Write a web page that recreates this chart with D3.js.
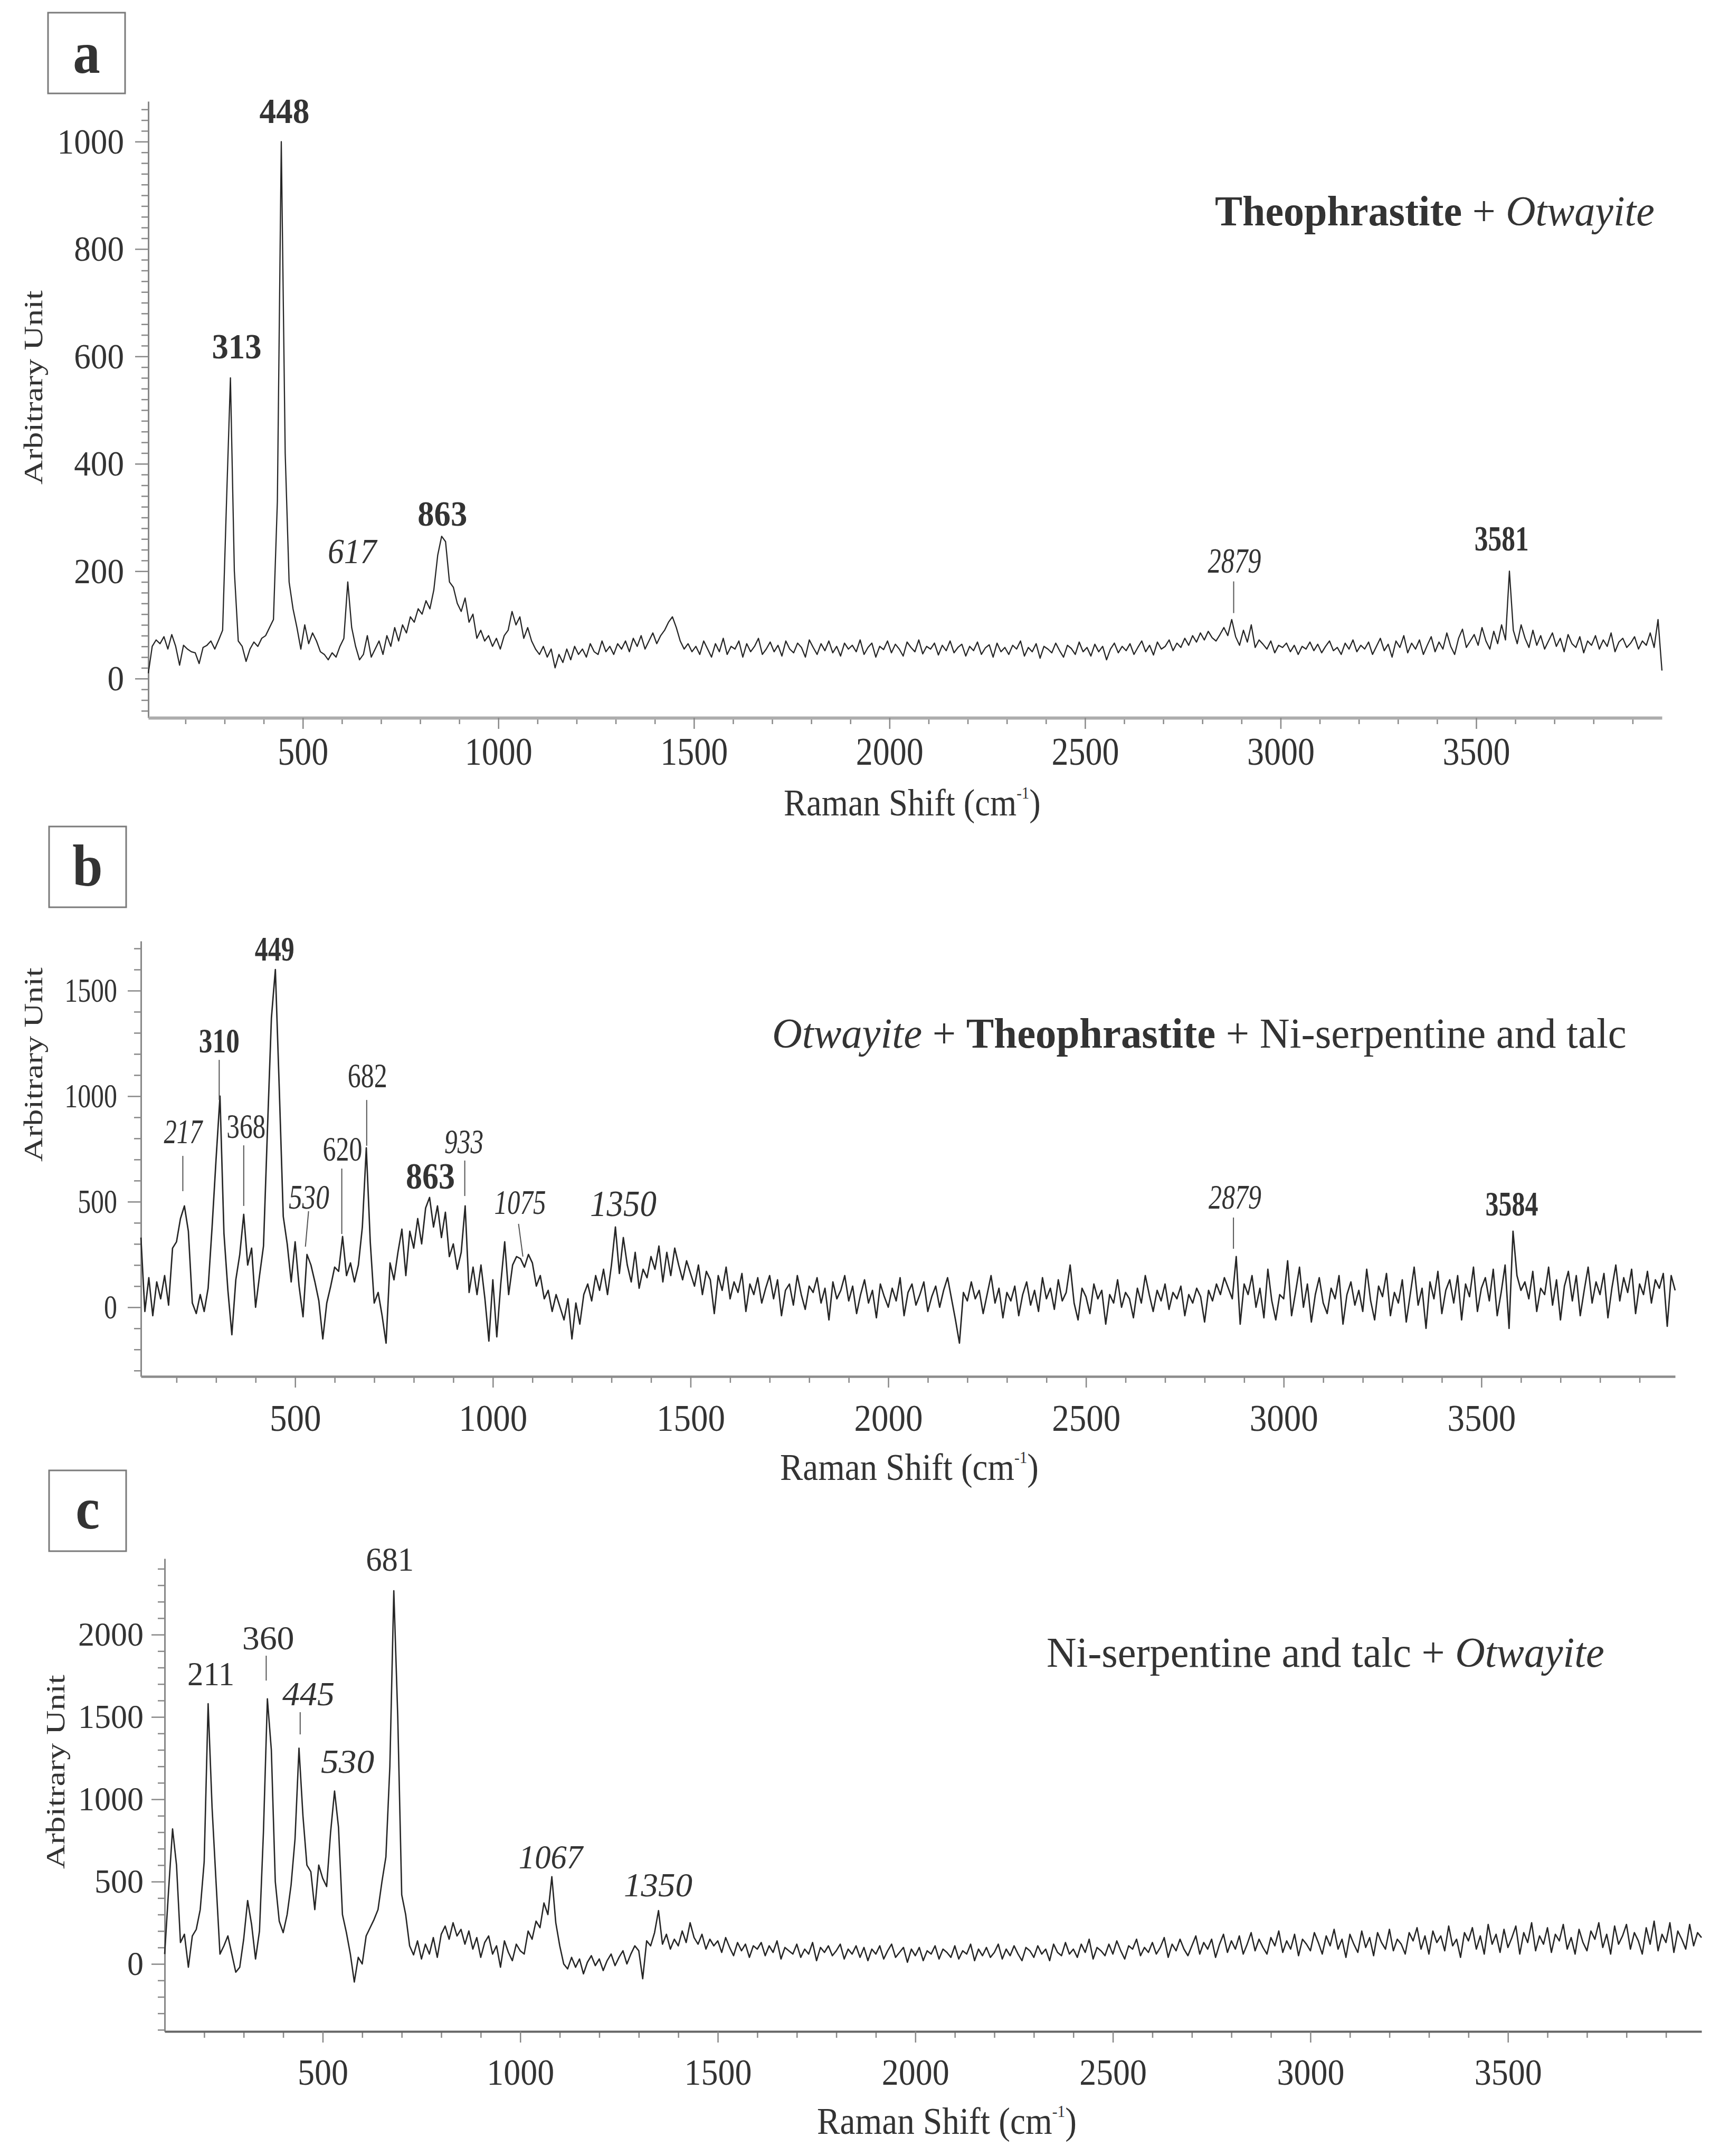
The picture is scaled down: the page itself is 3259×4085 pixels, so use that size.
<!DOCTYPE html>
<html>
<head>
<meta charset="utf-8">
<script src="https://cdn.jsdelivr.net/npm/d3@7"></script>
<style>
  html, body { margin: 0; padding: 0; background: #fff; }
  svg { display: block; }
</style>
</head>
<body>
<svg id="chart" width="3259" height="4085"></svg>
<script>
// ---------------- DATA ----------------
// Raman shift sampling (cm-1): first sample of each panel and sampling step
const shiftStartA = 105;
const shiftStartB = 110;
const shiftStartC = 100;
const shiftStep = 10;

// Panel a : Theophrastite + Otwayite (intensity, arbitrary unit)
const intensityA = [
  10, 60, 72, 65, 78, 55, 82, 60, 25, 62,
  55, 50, 48, 28, 58, 62, 70, 55, 72, 90,
  330, 560, 200, 70, 60, 32, 55, 68, 60, 75,
  80, 95, 110, 330, 1000, 420, 180, 130, 95, 55,
  100, 65, 85, 70, 50, 45, 35, 48, 40, 60,
  75, 180, 95, 60, 35, 45, 80, 40, 55, 70,
  45, 80, 60, 95, 70, 100, 85, 115, 105, 130,
  120, 145, 130, 165, 230, 265, 255, 180, 170, 140,
  125, 150, 105, 120, 75, 90, 70, 80, 60, 75,
  55, 80, 90, 125, 100, 115, 75, 95, 70, 55,
  45, 60, 40, 55, 20, 45, 30, 55, 35, 60,
  45, 55, 40, 65, 50, 45, 70, 50, 60, 45,
  65, 55, 70, 50, 75, 60, 80, 55, 70, 85,
  65, 80, 90, 105, 115, 95, 70, 55, 65, 50,
  60, 45, 70, 55, 40, 65, 50, 75, 45, 60,
  55, 70, 40, 65, 50, 60, 75, 45, 55, 68,
  50, 62, 42, 70, 55, 48, 66, 58, 40, 72,
  58, 45, 65, 52, 70, 48, 60, 42, 66, 55,
  62, 50, 72, 45, 58, 66, 40, 60, 54, 70,
  48, 64, 55, 42, 68, 58, 50, 72, 46, 60,
  55, 66, 44, 62, 52, 70, 48, 58, 64, 42,
  60, 52, 68, 45, 57, 63, 40, 66, 50, 58,
  45, 62, 55, 70, 42, 58, 50, 65, 38, 60,
  55, 48, 66, 52, 40, 62, 56, 45, 68, 50,
  58, 42, 64, 50, 60, 35, 55, 66, 48, 60,
  52, 65, 45, 58, 70, 50, 62, 44, 68, 55,
  60, 72, 52, 66, 58, 75, 62, 80, 68, 85,
  72, 88, 76, 70, 82, 95, 80, 110, 78, 62,
  90, 68, 100, 58, 72, 64, 55, 70, 48, 62,
  58, 66, 50, 62, 45, 60, 55, 68, 52, 64,
  48, 60, 70, 52, 58, 45, 66, 55, 72, 50,
  62, 55, 68, 45, 60, 75, 52, 64, 40, 70,
  58, 80, 48, 66, 55, 72, 45, 62, 78, 50,
  68, 55, 85, 60, 45, 75, 92, 58, 70, 82,
  62, 95, 70, 55, 88, 65, 100, 72, 200, 90,
  65, 100, 75, 58, 90, 62, 80, 55, 70, 85,
  60, 75, 50, 82, 65, 58, 78, 48, 70, 62,
  80, 55, 72, 60, 85, 50, 68, 75, 58, 66,
  78, 55, 70, 62, 85, 58, 110, 15
];

// Panel b : Otwayite + Theophrastite + Ni-serpentine and talc
const intensityB = [
  330, -20, 140, -40, 120, 40, 150, 10, 280, 310,
  420, 480, 360, 20, -30, 60, -20, 90, 380, 700,
  1000, 350, 80, -130, 130, 250, 440, 200, 280, 0,
  150, 290, 840, 1370, 1600, 1030, 430, 300, 120, 310,
  100, -45, 250, 200, 120, 30, -150, 20, 100, 190,
  170, 335, 150, 210, 120, 200, 380, 755, 310, 20,
  70, -40, -170, 210, 130, 260, 370, 150, 360, 280,
  420, 300, 470, 520, 380, 480, 330, 450, 240, 300,
  180, 260, 480, 70, 190, 60, 200, 40, -160, 130,
  -140, 110, 310, 60, 200, 240, 230, 190, 250, 210,
  100, 150, 40, 80, -20, 60, 0, -60, 40, -150,
  20, -80, 60, 110, 30, 150, 80, 180, 60, 200,
  380, 160, 330, 200, 120, 260, 90, 180, 140, 240,
  180, 290, 120, 260, 150, 280, 200, 130, 220, 160,
  100, 200, 60, 170, 130, -30, 150, 80, 190, 40,
  120, 70, 160, -20, 110, 60, 140, 20, 90, 150,
  40, 130, -40, 80, 110, 10, 150, 60, -10, 100,
  70, 140, 20, 90, -60, 120, 40, 80, 150, 30,
  100, -30, 60, 130, 20, 80, -50, 110, 50, 0,
  90, 30, 140, -40, 70, 110, 10, 60, 120, -20,
  50, 100, 0, 80, 140, 40, -60, -170, 70, 30,
  120, 40, 80, -30, 60, 150, 20, 90, -50, 70,
  30, 100, -40, 60, 120, 10, 80, -20, 140, 40,
  90, -10, 130, 30, 70, 200, 20, -60, 90, 50,
  -30, 110, 40, 80, -80, 60, 20, 130, 0, 70,
  40, -50, 90, 20, 150, 60, -20, 80, 30, 110,
  -10, 70, 40, 100, -40, 60, 20, 90, 50, -70,
  80, 30, 110, 60, 140, 90, 40, 240, -80, 110,
  60, 150, 0, 90, -50, 180, 30, -60, 60, 40,
  220, -40, 70, 190, 0, 110, -70, 60, 140, 20,
  -30, 90, 40, 150, -80, 60, 120, 10, 80, -20,
  180, 30, -60, 100, 50, 160, -40, 70, 20, 130,
  -70, 60, 190, 10, 90, -100, 120, 40, 170, -30,
  80, 130, 20, 150, -60, 110, 50, 190, -20, 90,
  140, 30, 180, -40, 70, 200, -100, 360, 150, 80,
  120, 40, 170, -20, 90, 60, 190, 10, 130, -60,
  100, 170, 30, 150, -40, 80, 190, 20, 120, 60,
  160, -50, 90, 200, 30, 140, 70, 180, -30, 110,
  60, 170, 20, 130, 90, 160, -90, 150, 80
];

// Panel c : Ni-serpentine and talc + Otwayite
const intensityC = [
  60, 450, 820, 600, 130, 180, -20, 170, 210, 330,
  620, 1580, 950, 500, 60, 110, 170, 60, -50, -20,
  150, 385, 240, 30, 200, 800, 1610, 1300, 500, 260,
  190, 300, 480, 760, 1310, 900, 600, 560, 330, 600,
  520, 470, 800, 1050, 830, 300, 190, 60, -110, 40,
  0, 170, 220, 270, 330, 500, 650, 1200, 2266, 1500,
  420, 300, 110, 55, 140, 30, 120, 60, 160, 40,
  180, 230, 150, 250, 170, 210, 120, 200, 90, 160,
  40, 130, 170, 60, 110, -20, 140, 70, 20, 120,
  80, 60, 200, 150, 260, 220, 370, 300, 530, 250,
  110, 0, -30, 40, -20, 30, -60, 10, 50, -10,
  30, -40, 20, 60, -10, 40, 80, 0, 60, 110,
  80, -90, 140, 110, 190, 324, 120, 180, 90, 150,
  110, 200, 130, 250, 160, 120, 180, 90, 150, 110,
  140, 70, 160, 100, 50, 130, 80, 120, 40, 110,
  90, 130, 50, 110, 70, 140, 30, 100, 80, 60,
  120, 40, 90, 60, 130, 20, 100, 70, 110, 50,
  80, 120, 30, 90, 60, 110, 40, 100, 20, 90,
  60, 110, 30, 80, 120, 40, 70, 100, 10, 90,
  50, 100, 20, 80, 60, 110, 30, 90, 70, 40,
  110, 30, 80, 60, 120, 20, 90, 50, 100, 40,
  70, 120, 30, 90, 50, 110, 60, 20, 100, 80,
  40, 110, 60, 90, 20, 120, 70, 50, 130, 60,
  90, 40, 120, 70, 150, 30, 100, 80, 50, 120,
  60, 140, 80, 30, 110, 90, 150, 50, 100, 70,
  130, 60, 100, 160, 40, 120, 80, 150, 90, 50,
  110, 170, 60, 130, 90, 150, 40, 120, 180, 70,
  140, 90, 170, 60, 120, 190, 80, 150, 100, 60,
  160, 110, 200, 70, 140, 90, 180, 50, 150, 120,
  80, 190, 130, 60, 170, 110, 210, 90, 150, 40,
  180, 120, 70, 200, 100, 160, 50, 190, 130, 90,
  210, 80, 150, 120, 60, 190, 140, 220, 90, 170,
  60, 200, 130, 170, 80, 230, 110, 150, 40, 190,
  140, 220, 90, 170, 60, 240, 120, 180, 70, 210,
  100, 160, 230, 60, 190, 130, 250, 80, 170, 120,
  220, 70, 180, 140, 240, 90, 160, 60, 210, 130,
  80, 200, 150, 250, 100, 180, 60, 230, 120, 170,
  240, 90, 190, 140, 60, 220, 120, 260, 80, 180,
  130, 250, 70, 200, 150, 90, 240, 110, 190, 160
];

// Axis tick labels
const xTicks = [500, 1000, 1500, 2000, 2500, 3000, 3500];
const yTicksA = [0, 200, 400, 600, 800, 1000];
const yTicksB = [0, 500, 1000, 1500];
const yTicksC = [0, 500, 1000, 1500, 2000];

// Peak labels (text)
const peakLabelsA = ["448", "313", "617", "863", "2879", "3581"];
const peakLabelsB = ["449", "310", "217", "368", "682", "620", "530", "863", "933", "1075", "1350", "2879", "3584"];
const peakLabelsC = ["211", "360", "445", "530", "681", "1067", "1350"];

// Titles / axis names
const panelLetters = ["a", "b", "c"];
const titleA = [{t: "Theophrastite", w: "bold"}, {t: " + "}, {t: "Otwayite", s: "italic"}];
const titleB = [{t: "Otwayite", s: "italic"}, {t: " + "}, {t: "Theophrastite", w: "bold"}, {t: " + Ni-serpentine and talc"}];
const titleC = [{t: "Ni-serpentine and talc + "}, {t: "Otwayite", s: "italic"}];
const xAxisName = [{t: "Raman Shift (cm"}, {t: "-1", sup: true}, {t: ")", unsup: true}];
const yAxisName = "Arbitrary Unit";

// ---------------- LAYOUT (positions / styles) ----------------
const SERIF = "'Liberation Serif','Times New Roman',Times,serif";
const INK = "#333";
const AXIS = "#888";

// label placements in data space: [shift, intensity level of baseline], style, ink width
const placeA = [
  {cm: 453, lvl: 1035, w: "bold", width: 95},
  {cm: 331, lvl: 596, w: "bold", width: 94},
  {cm: 628, lvl: 215, s: "italic", width: 95},
  {cm: 857, lvl: 285, w: "bold", width: 94},
  {cm: 2882, lvl: 197, s: "italic", width: 101},
  {cm: 3565, lvl: 239, w: "bold", width: 103}
];
const placeB = [
  {cm: 448, lvl: 1642, w: "bold", width: 75},
  {cm: 308, lvl: 1207, w: "bold", width: 77},
  {cm: 218, lvl: 777, s: "italic", width: 75},
  {cm: 376, lvl: 802, width: 74},
  {cm: 683, lvl: 1042, width: 75},
  {cm: 620, lvl: 695, width: 75},
  {cm: 535, lvl: 467, s: "italic", width: 77},
  {cm: 842, lvl: 562, w: "bold", width: 93, size: 70},
  {cm: 927, lvl: 730, s: "italic", width: 74},
  {cm: 1069, lvl: 442, s: "italic", width: 98},
  {cm: 1330, lvl: 432, s: "italic", width: 126, size: 70},
  {cm: 2877, lvl: 467, s: "italic", width: 100},
  {cm: 3577, lvl: 435, w: "bold", width: 100}
];
const placeC = [
  {cm: 217, lvl: 1692, width: 89},
  {cm: 362, lvl: 1910, width: 99},
  {cm: 464, lvl: 1571, s: "italic", width: 99},
  {cm: 563, lvl: 1160, s: "italic", width: 101},
  {cm: 670, lvl: 2388, width: 91},
  {cm: 1079, lvl: 580, s: "italic", width: 124},
  {cm: 1349, lvl: 410, s: "italic", width: 130}
];
// leader lines in data space [x1, y1, x2, y2]
const leadA = [[2880, 181, 2880, 122]];
const leadB = [[216, 717, 216, 550], [308, 1172, 308, 982], [370, 767, 370, 480], [534, 455, 526, 287],
               [618, 657, 618, 347], [681, 982, 681, 765], [929, 695, 929, 527], [1065, 395, 1076, 240],
               [2873, 425, 2873, 277]];
const leadC = [[357, 1872, 357, 1721], [443, 1529, 443, 1394]];

const panels = [
  {values: intensityA, start: shiftStartA, xRange: [281, 3149], yDomain: [-73, 1075], yRange: [1360, 192],
   yMajor: yTicksA, yMinorStep: 20, yLabelRight: 235, yLabelSize: 68, yLabelK: 0.93,
   xAxisColor: "#adadad", xAxisWidth: 6, xLabelBase: 89, xLabelSize: 74, xLabelK: 0.865,
   box: [91, 24], letter: panelLetters[0], letterBase: 138,
   yTitle: [80, 734], xTitle: [1485, 1545, 487],
   title: titleA, titlePos: [2302, 427, 833], lineWidth: 2.3,
   labels: peakLabelsA, place: placeA, labelSize: 68, leaders: leadA},
  {values: intensityB, start: shiftStartB, xRange: [267, 3174], yDomain: [-328, 1735], yRange: [2608, 1783],
   yMajor: yTicksB, yMinorStep: 100, yLabelRight: 222, yLabelSize: 64, yLabelK: 0.78,
   xAxisColor: "#8c8c8c", xAxisWidth: 4.5, xLabelBase: 103, xLabelSize: 71, xLabelK: 0.915,
   box: [93, 1566], letter: panelLetters[1], letterBase: 1678,
   yTitle: [80, 2017], xTitle: [1478, 2804, 490],
   title: titleB, titlePos: [1463, 1985, 1619], lineWidth: 2.7,
   labels: peakLabelsB, place: placeB, labelSize: 66, leaders: leadB},
  {values: intensityC, start: shiftStartC, xRange: [312, 3224], yDomain: [-410, 2462], yRange: [3849, 2953],
   yMajor: yTicksC, yMinorStep: 100, yLabelRight: 272, yLabelSize: 64, yLabelK: 0.97,
   xAxisColor: "#666", xAxisWidth: 4, xLabelBase: 101, xLabelSize: 70, xLabelK: 0.914,
   box: [93, 2786], letter: panelLetters[2], letterBase: 2896,
   yTitle: [122, 3357], xTitle: [1548, 4043, 492],
   title: titleC, titlePos: [1983, 3158, 1057], lineWidth: 2.6,
   labels: peakLabelsC, place: placeC, labelSize: 64, leaders: leadC}
];

// ---------------- DRAW ----------------
const svg = d3.select("#chart");
svg.append("rect").attr("width", 3259).attr("height", 4085).attr("fill", "#fff");

function placeText(g, x, y, parts, opt) {
  const t = g.append("text")
    .attr("font-family", SERIF)
    .attr("font-size", opt.size)
    .attr("fill", INK);
  parts.forEach(p => {
    const s = t.append("tspan").text(p.t);
    if (p.w) s.attr("font-weight", p.w);
    if (p.s) s.attr("font-style", p.s);
    if (p.sup) s.attr("font-size", opt.size * 0.45).attr("dy", -opt.size * 0.45);
    if (p.unsup) s.attr("dy", opt.size * 0.45);
  });
  const bb = t.node().getBBox();
  const k = opt.width ? opt.width / bb.width : (opt.k || 1);
  let tx;
  if (opt.align === "center") tx = x - (bb.x + bb.width / 2) * k;
  else tx = x - bb.x * k;
  t.attr("transform", `translate(${tx},${y}) scale(${k},1)`);
  return t;
}

panels.forEach(P => {
  const n = P.values.length;
  const x = d3.scaleLinear().domain([P.start, P.start + shiftStep * (n - 1)]).range(P.xRange);
  const y = d3.scaleLinear().domain(P.yDomain).range(P.yRange);
  const g = svg.append("g");

  // panel letter box
  g.append("rect").attr("x", P.box[0]).attr("y", P.box[1]).attr("width", 146).attr("height", 153)
    .attr("fill", "none").attr("stroke", "#7a7a7a").attr("stroke-width", 3);
  placeText(g, P.box[0] + 73, P.letterBase, [{t: P.letter, w: "bold"}], {size: 112, align: "center", k: 0.92});

  // y axis
  const yMinor = d3.range(Math.ceil(P.yDomain[0] / P.yMinorStep) * P.yMinorStep, P.yDomain[1], P.yMinorStep)
    .filter(v => !P.yMajor.includes(v));
  const yg = g.append("g").attr("transform", `translate(${P.xRange[0]},0)`);
  yg.append("g")
    .call(d3.axisLeft(y).tickValues(yMinor).tickSize(13).tickFormat(""))
    .call(s => s.select(".domain").remove())
    .call(s => s.selectAll("line").attr("stroke", AXIS).attr("stroke-width", 2.5));
  yg.append("g")
    .call(d3.axisLeft(y).tickValues(P.yMajor).tickSize(25).tickSizeOuter(0).tickFormat(d3.format("d")))
    .call(s => s.select(".domain").attr("stroke", AXIS).attr("stroke-width", 3))
    .call(s => s.selectAll("line").attr("stroke", AXIS).attr("stroke-width", 2.5))
    .call(s => s.selectAll("text")
      .attr("font-family", SERIF).attr("font-size", P.yLabelSize).attr("fill", INK)
      .attr("x", (P.yLabelRight - P.xRange[0]) / P.yLabelK)
      .attr("transform", `scale(${P.yLabelK},1)`));

  // x axis
  const xMinor = d3.range(200, 4000, 100).filter(v => !xTicks.includes(v) && v < x.domain()[1]);
  const xg = g.append("g").attr("transform", `translate(0,${P.yRange[0]})`);
  xg.append("g")
    .call(d3.axisBottom(x).tickValues(xMinor).tickSize(12).tickFormat(""))
    .call(s => s.select(".domain").remove())
    .call(s => s.selectAll("line").attr("stroke", AXIS).attr("stroke-width", 2.5));
  xg.append("g")
    .call(d3.axisBottom(x).tickValues(xTicks).tickSize(21).tickSizeOuter(0).tickFormat(d3.format("d")))
    .call(s => s.select(".domain").attr("stroke", P.xAxisColor).attr("stroke-width", P.xAxisWidth))
    .call(s => s.selectAll("line").attr("stroke", AXIS).attr("stroke-width", 2.5))
    .call(s => s.selectAll("text")
      .attr("font-family", SERIF).attr("font-size", P.xLabelSize).attr("fill", INK)
      .attr("y", P.xLabelBase).attr("dy", 0)
      .attr("transform", `scale(${P.xLabelK},1)`));

  // spectrum
  const line = d3.line().x((d, i) => x(P.start + i * shiftStep)).y(d => y(d));
  g.append("path").datum(P.values).attr("d", line)
    .attr("fill", "none").attr("stroke", "#262626").attr("stroke-width", P.lineWidth)
    .attr("stroke-linejoin", "round");

  // leader lines
  g.selectAll("line.leader").data(P.leaders).enter().append("line")
    .attr("class", "leader")
    .attr("x1", d => x(d[0])).attr("y1", d => y(d[1]))
    .attr("x2", d => x(d[2])).attr("y2", d => y(d[3]))
    .attr("stroke", "#555").attr("stroke-width", 2);

  // peak labels
  P.labels.forEach((txt, i) => {
    const p = P.place[i];
    placeText(g, x(p.cm), y(p.lvl), [{t: txt, w: p.w, s: p.s}],
      {size: p.size || P.labelSize, align: "center", width: p.width});
  });

  // axis titles
  g.append("text")
    .attr("font-family", SERIF).attr("font-size", 64).attr("fill", INK)
    .attr("text-anchor", "middle")
    .attr("transform", `translate(${P.yTitle[0]},${P.yTitle[1]}) scale(0.8,1) rotate(-90)`)
    .text(yAxisName);
  placeText(g, P.xTitle[0], P.xTitle[1], xAxisName, {size: 72, width: P.xTitle[2]});

  // panel title
  placeText(g, P.titlePos[0], P.titlePos[1], P.title, {size: 80, width: P.titlePos[2]});
});
</script>
</body>
</html>
